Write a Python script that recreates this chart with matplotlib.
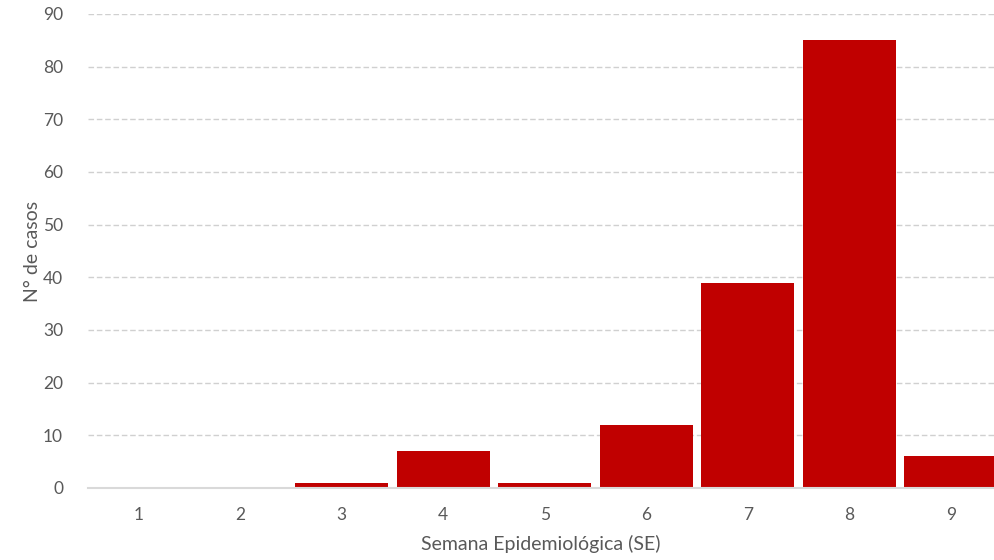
import matplotlib.pyplot as plt

semanas = [1, 2, 3, 4, 5, 6, 7, 8, 9]
casos = [0, 0, 1, 7, 1, 12, 39, 85, 6]
y_ticks = [0, 10, 20, 30, 40, 50, 60, 70, 80, 90]

plt.rcParams['font.family'] = ['Lato', 'DejaVu Sans']
gris = "#595959"

fig = plt.figure(figsize=(9.94, 5.6), dpi=100)
ax = fig.add_axes([88 / 994, 1 - 488 / 560, 906 / 994, 474 / 560])

ax.bar(semanas, casos, width=0.915, color="#c00000", zorder=3)

ax.set_xlim(0.5, 0.5 + 906 / 101.5)
ax.set_ylim(0, 90)
ax.set_xticks(semanas)
ax.set_yticks(y_ticks)
ax.tick_params(axis="both", length=0, colors=gris, labelsize=12.5)
ax.tick_params(axis="x", pad=14)
ax.tick_params(axis="y", pad=18)

ax.yaxis.grid(True, linestyle=(0, (4, 2)), color="#d0d0d0", linewidth=1, zorder=0)
for s in ["top", "right", "left"]:
    ax.spines[s].set_visible(False)
ax.spines["bottom"].set_color("#d9d9d9")
ax.spines["bottom"].set_linewidth(1.5)
ax.spines["bottom"].set_zorder(4)

ax.set_xlabel("Semana Epidemiológica (SE)", color=gris, fontsize=14, labelpad=8)
ax.set_ylabel("N° de casos", color=gris, fontsize=14, labelpad=1)

fig.savefig("out.png", dpi=100)
